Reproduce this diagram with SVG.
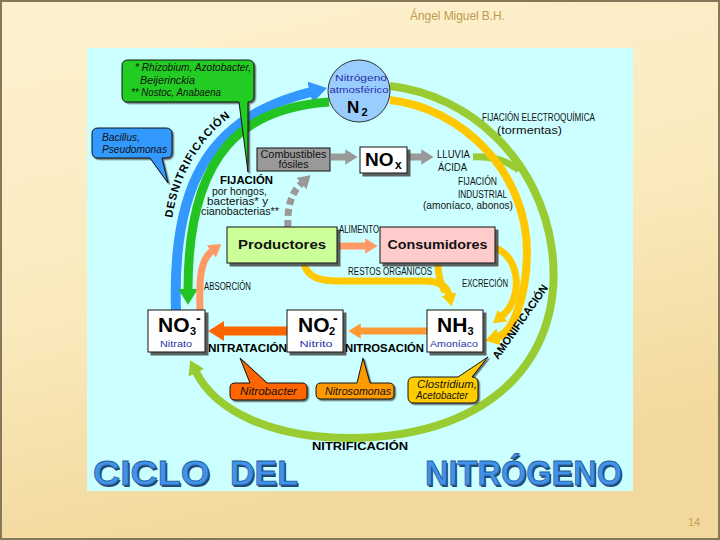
<svg xmlns="http://www.w3.org/2000/svg" width="720" height="540" viewBox="0 0 720 540">
<defs>
<linearGradient id="bg" x1="0" y1="0" x2="0.3" y2="1">
<stop offset="0" stop-color="#fdf1d0"/>
<stop offset="0.55" stop-color="#faeabd"/>
<stop offset="1" stop-color="#f2d89c"/>
</linearGradient>
<filter id="sh" x="-10%" y="-10%" width="130%" height="140%"><feDropShadow dx="3" dy="3" stdDeviation="0.5" flood-color="#444" flood-opacity="0.85"/></filter>
<filter id="sh2" x="-10%" y="-10%" width="130%" height="140%"><feDropShadow dx="1.5" dy="1.5" stdDeviation="0.5" flood-color="#333" flood-opacity="0.7"/></filter>
<marker id="mBlue" viewBox="0 0 10 10" refX="0.5" refY="5" markerWidth="2.2" markerHeight="2.2" orient="auto" markerUnits="strokeWidth"><path d="M0,0 L8,5 L0,10 z" fill="#3399ff"/></marker>
<marker id="mGreen" viewBox="0 0 10 10" refX="0.5" refY="5" markerWidth="2.2" markerHeight="2.2" orient="auto" markerUnits="strokeWidth"><path d="M0,0 L8,5 L0,10 z" fill="#22c322"/></marker>
<marker id="mOlive" viewBox="0 0 10 10" refX="0.5" refY="5" markerWidth="2.2" markerHeight="2.2" orient="auto" markerUnits="strokeWidth"><path d="M0,0 L8,5 L0,10 z" fill="#99cc33"/></marker>
<marker id="mYellow" viewBox="0 0 10 10" refX="0.5" refY="5" markerWidth="2.2" markerHeight="2.2" orient="auto" markerUnits="strokeWidth"><path d="M0,0 L8,5 L0,10 z" fill="#ffc800"/></marker>
<marker id="mGray" viewBox="0 0 10 10" refX="0.5" refY="5" markerWidth="2.2" markerHeight="2.2" orient="auto" markerUnits="strokeWidth"><path d="M0,0 L8,5 L0,10 z" fill="#999999"/></marker>
<marker id="mSalmon" viewBox="0 0 10 10" refX="0.5" refY="5" markerWidth="2.2" markerHeight="2.2" orient="auto" markerUnits="strokeWidth"><path d="M0,0 L8,5 L0,10 z" fill="#ff9966"/></marker>
<marker id="mOrange" viewBox="0 0 10 10" refX="0.5" refY="5" markerWidth="2.2" markerHeight="2.2" orient="auto" markerUnits="strokeWidth"><path d="M0,0 L8,5 L0,10 z" fill="#ff6600"/></marker>
<marker id="mOrange2" viewBox="0 0 10 10" refX="0.5" refY="5" markerWidth="2.2" markerHeight="2.2" orient="auto" markerUnits="strokeWidth"><path d="M0,0 L8,5 L0,10 z" fill="#ff9933"/></marker>
<path id="desPath" d="M 172 222 C 176 180, 200 135, 240 110 L 262 98"/>
<style>
text { font-family: "Liberation Sans", Arial, sans-serif; }
.lbl { font-size: 10px; fill: #111; }
.bl { font-size: 11px; font-weight: bold; fill: #000; }
.it { font-size: 10px; font-style: italic; fill: #111; }
.blue { font-size: 9.5px; fill: #2b2fa8; }
.big { font-size: 21px; font-weight: bold; fill: #000; }
.sub { font-size: 11px; font-weight: bold; fill: #000; }
.sup { font-size: 14px; font-weight: bold; fill: #000; }
.box { stroke: #111; stroke-width: 1; }
.arc { fill: none; }
.title { font-size: 35px; font-weight: bold; fill: #3f93ea; stroke: #2a5c9c; stroke-width: 0.8; }
.tshadow { font-size: 35px; font-weight: bold; fill: #24476f; }
</style>
</defs>

<rect x="0" y="0" width="720" height="540" fill="url(#bg)"/>
<rect x="1" y="1" width="718" height="538" fill="none" stroke="#85795a" stroke-width="2"/>
<text x="410" y="20" font-size="12" fill="#c09a50" textLength="95">Ángel Miguel B.H.</text>
<text x="688" y="526" font-size="11" fill="#c8a050">14</text>

<rect id="panel" x="87" y="48" width="546" height="443" fill="#ccffff"/>

<g id="connectors">
<path class="arc" d="M 390 86 C 470 95, 540 160, 552 250 C 565 350, 500 437, 350 438 C 270 438, 215 410, 196 372" stroke="#99cc33" stroke-width="8" marker-end="url(#mOlive)"/>
<path class="arc" d="M 473 157 C 492 156, 506 160, 519 170" stroke="#99cc33" stroke-width="7"/>
<path class="arc" d="M 390 100 C 460 108, 528 170, 527 255 C 526 300, 512 333, 498 337" stroke="#ffc800" stroke-width="8" marker-end="url(#mYellow)"/>
<path class="arc" d="M 176 311 C 172 190, 205 118, 311 92" stroke="#3399ff" stroke-width="10" marker-end="url(#mBlue)"/>
<path class="arc" d="M 329 102 C 245 108, 188 150, 188 290" stroke="#22c322" stroke-width="9" marker-end="url(#mGreen)"/>
<path class="arc" d="M 331 157 L 346 157" stroke="#999999" stroke-width="7" marker-end="url(#mGray)"/>
<path class="arc" d="M 408 157 L 422 157" stroke="#999999" stroke-width="7" marker-end="url(#mGray)"/>
<path class="arc" d="M 288 227 C 287 205, 292 192, 302 183" stroke="#999999" stroke-width="7" stroke-dasharray="7 4" marker-end="url(#mGray)"/>
<path class="arc" d="M 338 246 L 366 246" stroke="#ff9966" stroke-width="7" marker-end="url(#mSalmon)"/>
<path class="arc" d="M 200 311 C 199 280, 200 260, 212 251" stroke="#ff9966" stroke-width="7" marker-end="url(#mSalmon)"/>
<path class="arc" d="M 304 264 C 308 278, 320 281, 340 281 L 425 281 C 440 281, 447 287, 449 295" stroke="#ffc800" stroke-width="7" marker-end="url(#mYellow)"/>
<path class="arc" d="M 438 264 C 438 275, 440 283, 445 292" stroke="#ffc800" stroke-width="7"/>
<path class="arc" d="M 495 248 C 520 256, 524 298, 502 316" stroke="#ffc800" stroke-width="7" marker-end="url(#mYellow)"/>
<path class="arc" d="M 287 331 L 223 331" stroke="#ff6600" stroke-width="9" marker-end="url(#mOrange)"/>
<path class="arc" d="M 427 331 L 360 331" stroke="#ff9933" stroke-width="7" marker-end="url(#mOrange2)"/>
</g>

<g id="node-n2">
<circle cx="359" cy="91" r="31" fill="#99ccff" stroke="#333" stroke-width="1"/>
<text class="blue" x="361" y="81" text-anchor="middle" font-size="10" textLength="52" lengthAdjust="spacingAndGlyphs">Nitrógeno</text>
<text class="blue" x="359" y="93" text-anchor="middle" font-size="10" textLength="59" lengthAdjust="spacingAndGlyphs">atmosférico</text>
<text x="347" y="113" font-size="17" font-weight="bold" fill="#000">N</text>
<text x="361.5" y="116" font-size="11" font-weight="bold" fill="#000">2</text>
</g>

<g id="node-combustibles">
<rect class="box" x="257" y="148" width="73" height="23" fill="#999999"/>
<text class="lbl" x="293.5" y="158" text-anchor="middle" font-size="10.5" textLength="66" lengthAdjust="spacingAndGlyphs">Combustibles</text>
<text class="lbl" x="293.5" y="168" text-anchor="middle" font-size="10.5" textLength="30" lengthAdjust="spacingAndGlyphs">fósiles</text>
</g>

<g id="node-nox">
<rect class="box" x="360" y="147" width="47" height="26" fill="#ffffff" filter="url(#sh)"/>
<text x="365" y="166" font-size="19" font-weight="bold" fill="#000">NO</text>
<text x="395" y="169" font-size="12" font-weight="bold" fill="#000">x</text>
</g>

<g id="node-productores">
<rect class="box" x="227" y="227" width="110" height="36" fill="#ccff99" filter="url(#sh)"/>
<text x="282" y="249" text-anchor="middle" font-size="13" font-weight="bold" fill="#111" textLength="88" lengthAdjust="spacingAndGlyphs">Productores</text>
</g>

<g id="node-consumidores">
<rect class="box" x="380" y="227" width="115" height="36" fill="#ffcccc" filter="url(#sh)"/>
<text x="437.5" y="249" text-anchor="middle" font-size="13" font-weight="bold" fill="#111" textLength="100" lengthAdjust="spacingAndGlyphs">Consumidores</text>
</g>

<g id="node-no3">
<rect class="box" x="148" y="310" width="57" height="42" fill="#ffffff" filter="url(#sh)"/>
<text class="big" x="158" y="332">NO</text>
<text class="sub" x="190" y="335">3</text>
<text class="sup" x="196" y="323">-</text>
<text class="blue" x="176" y="347" text-anchor="middle" textLength="32" lengthAdjust="spacingAndGlyphs">Nitrato</text>
</g>

<g id="node-no2">
<rect class="box" x="287" y="310" width="56" height="42" fill="#ffffff" filter="url(#sh)"/>
<text class="big" x="298" y="332">NO</text>
<text class="sub" x="329" y="335">2</text>
<text class="sup" x="333" y="323">-</text>
<text class="blue" x="316" y="347" text-anchor="middle" textLength="33" lengthAdjust="spacingAndGlyphs">Nitrito</text>
</g>

<g id="node-nh3">
<rect class="box" x="427" y="310" width="56" height="42" fill="#ffffff" filter="url(#sh)"/>
<text class="big" x="437" y="332">NH</text>
<text class="sub" x="467.5" y="335">3</text>
<text class="blue" x="454" y="347" text-anchor="middle" textLength="48" lengthAdjust="spacingAndGlyphs">Amoníaco</text>
</g>

<g id="callout-rhizobium">
<path class="box" d="M 128 60 H 248 Q 254 60 254 66 V 96 Q 254 102 248 102 L 248 172 L 239 102 H 128 Q 122 102 122 96 V 66 Q 122 60 128 60 Z" fill="#22cc22" filter="url(#sh2)"/>
<text class="it" x="135" y="71" textLength="116" lengthAdjust="spacingAndGlyphs">* Rhizobium, Azotobacter,</text>
<text class="it" x="140" y="84" textLength="55" lengthAdjust="spacingAndGlyphs">Beijerinckia</text>
<text class="it" x="131" y="96" textLength="90" lengthAdjust="spacingAndGlyphs">** Nostoc, Anabaena</text>
</g>

<g id="callout-bacillus">
<path class="box" d="M 98 128 H 166 Q 172 128 172 134 V 152 Q 172 158 166 158 H 162 L 168 183 L 150 158 H 98 Q 92 158 92 152 V 134 Q 92 128 98 128 Z" fill="#3399ff" filter="url(#sh2)"/>
<text class="it" x="102" y="141" textLength="38" lengthAdjust="spacingAndGlyphs">Bacillus,</text>
<text class="it" x="102" y="153" textLength="65" lengthAdjust="spacingAndGlyphs">Pseudomonas</text>
</g>

<g id="callout-nitrobacter">
<path class="box" d="M 235 383 H 250 L 240 358 L 267 383 H 302 Q 307 383 307 388 V 395 Q 307 400 302 400 H 235 Q 230 400 230 395 V 388 Q 230 383 235 383 Z" fill="#ff6600" filter="url(#sh2)"/>
<text class="it" x="240" y="395" textLength="57" lengthAdjust="spacingAndGlyphs">Nitrobacter</text>
</g>

<g id="callout-nitrosomonas">
<path class="box" d="M 321 383 H 357 L 363 358 L 370 383 H 389 Q 394 383 394 388 V 394 Q 394 399 389 399 H 321 Q 316 399 316 394 V 388 Q 316 383 321 383 Z" fill="#ff9900" filter="url(#sh2)"/>
<text class="it" x="325" y="395" textLength="66" lengthAdjust="spacingAndGlyphs">Nitrosomonas</text>
</g>

<g id="callout-clostridium">
<path class="box" d="M 414 377 H 458 L 488 357 L 472 377 Q 478 377 478 383 V 397 Q 478 403 472 403 H 414 Q 408 403 408 397 V 383 Q 408 377 414 377 Z" fill="#ffcc00" filter="url(#sh2)"/>
<text class="it" x="417" y="388" textLength="60" lengthAdjust="spacingAndGlyphs">Clostridium,</text>
<text class="it" x="416" y="399" textLength="52" lengthAdjust="spacingAndGlyphs">Acetobacter</text>
</g>

<g id="labels">
<text class="bl" font-size="11" letter-spacing="1"><textPath href="#desPath" startOffset="4">DESNI</textPath></text>
<text class="bl" font-size="11" letter-spacing="1"><textPath href="#desPath" startOffset="42.6">TRIFI</textPath></text>
<text class="bl" font-size="11" letter-spacing="1"><textPath href="#desPath" startOffset="75.1">CACIÓN</textPath></text>
<text class="bl" font-size="11" transform="translate(498,360) rotate(-55)" textLength="88" lengthAdjust="spacingAndGlyphs">AMONIFICACIÓN</text>
<text class="bl" x="220" y="184" font-size="11" textLength="53" lengthAdjust="spacingAndGlyphs">FIJACIÓN</text>
<text class="lbl" x="212" y="195" font-size="8.5" textLength="55" lengthAdjust="spacingAndGlyphs">por hongos,</text>
<text class="lbl" x="207" y="205" font-size="8.5" textLength="61" lengthAdjust="spacingAndGlyphs">bacterias* y</text>
<text class="lbl" x="201" y="215" font-size="8.5" textLength="78" lengthAdjust="spacingAndGlyphs">cianobacterias**</text>
<text class="lbl" x="482" y="121" textLength="113" lengthAdjust="spacingAndGlyphs">FIJACIÓN ELECTROQUÍMICA</text>
<text class="lbl" x="497" y="134" textLength="65" lengthAdjust="spacingAndGlyphs">(tormentas)</text>
<text class="lbl" x="437" y="158" textLength="33" lengthAdjust="spacingAndGlyphs">LLUVIA</text>
<text class="lbl" x="438" y="171" textLength="29" lengthAdjust="spacingAndGlyphs">ÁCIDA</text>
<text class="lbl" x="458" y="185" textLength="39" lengthAdjust="spacingAndGlyphs">FIJACIÓN</text>
<text class="lbl" x="458" y="198" textLength="49" lengthAdjust="spacingAndGlyphs">INDUSTRIAL</text>
<text class="lbl" x="423" y="209" textLength="90" lengthAdjust="spacingAndGlyphs">(amoníaco, abonos)</text>
<text class="lbl" x="339" y="233" font-size="9.5" textLength="40" lengthAdjust="spacingAndGlyphs">ALIMENTO</text>
<text class="lbl" x="348" y="275" font-size="9.5" textLength="84" lengthAdjust="spacingAndGlyphs">RESTOS ORGÁNICOS</text>
<text class="lbl" x="462" y="287" font-size="9.5" textLength="46" lengthAdjust="spacingAndGlyphs">EXCRECIÓN</text>
<text class="lbl" x="204" y="290" font-size="9.5" textLength="47" lengthAdjust="spacingAndGlyphs">ABSORCIÓN</text>
<text class="bl" x="208" y="352" font-size="11.5" textLength="79" lengthAdjust="spacingAndGlyphs">NITRATACIÓN</text>
<text class="bl" x="345" y="352" font-size="11.5" textLength="79" lengthAdjust="spacingAndGlyphs">NITROSACIÓN</text>
<text class="bl" x="312" y="450" font-size="11" textLength="96" lengthAdjust="spacingAndGlyphs">NITRIFICACIÓN</text>
</g>

<g id="title">
<text class="tshadow" x="94.5" y="486.5" textLength="117" lengthAdjust="spacingAndGlyphs">CICLO</text>
<text class="tshadow" x="231.5" y="486.5" textLength="68" lengthAdjust="spacingAndGlyphs">DEL</text>
<text class="tshadow" x="426.5" y="486.5" textLength="197" lengthAdjust="spacingAndGlyphs">NITRÓGENO</text>
<text class="title" x="93" y="485" textLength="117" lengthAdjust="spacingAndGlyphs">CICLO</text>
<text class="title" x="230" y="485" textLength="68" lengthAdjust="spacingAndGlyphs">DEL</text>
<text class="title" x="425" y="485" textLength="197" lengthAdjust="spacingAndGlyphs">NITRÓGENO</text>
</g>
</svg>
